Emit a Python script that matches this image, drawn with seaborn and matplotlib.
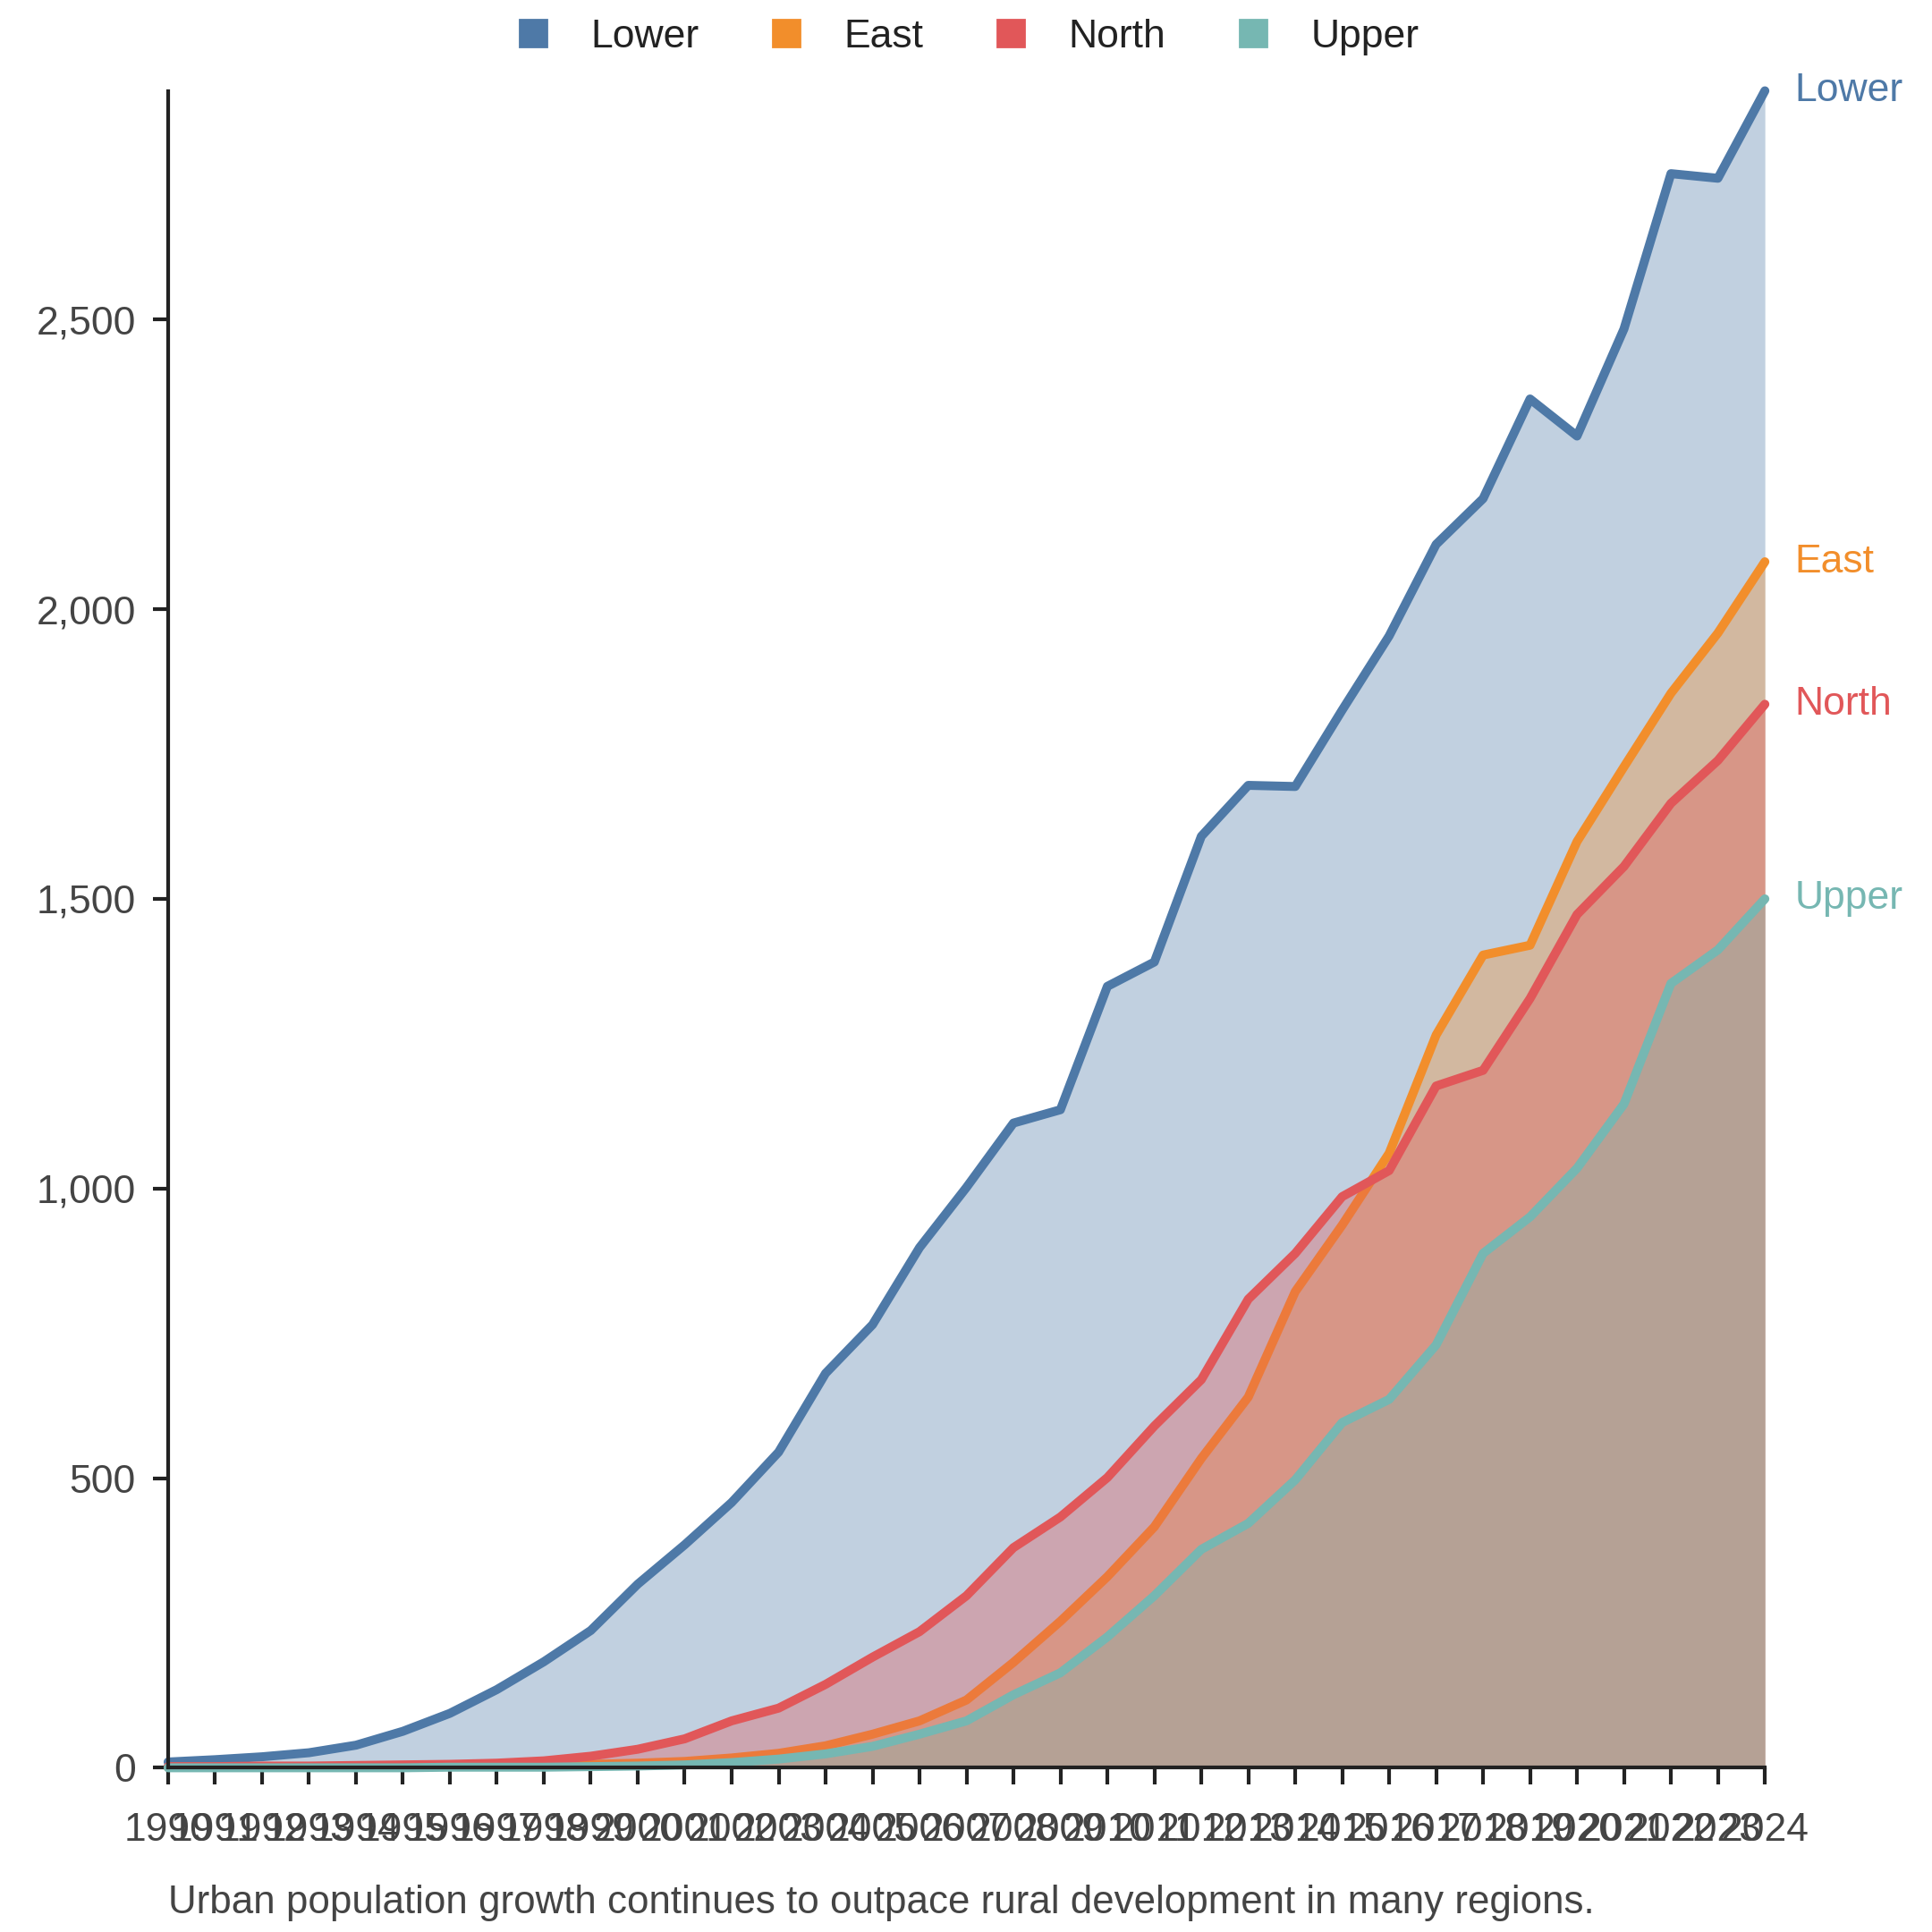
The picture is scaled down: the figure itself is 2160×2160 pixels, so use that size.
import matplotlib
matplotlib.use("Agg")
import matplotlib.pyplot as plt
from matplotlib.lines import Line2D
from matplotlib.ticker import FuncFormatter
import numpy as np
import pandas as pd
import seaborn as sns

# data
years = list(range(1990, 2025))
regions = ["Lower", "East", "North", "Upper"]
lower = [10, 14, 19, 26, 39, 63, 94, 135, 183, 237, 317, 385, 458, 545, 681, 765, 898, 1002,
         1113, 1136, 1349, 1391, 1608, 1696, 1694, 1826, 1954, 2112, 2191, 2363, 2299, 2484,
         2752, 2744, 2895]
east = [1, 1, 1, 2, 2, 3, 3, 4, 5, 6, 8, 11, 17, 25, 38, 58, 81, 117, 182, 253, 330, 416,
        534, 640, 822, 937, 1061, 1265, 1403, 1420, 1599, 1728, 1855, 1959, 2082]
north = [2, 2, 3, 3, 4, 5, 6, 8, 12, 20, 32, 50, 81, 103, 144, 191, 235, 297, 380, 433, 501,
         590, 670, 809, 888, 986, 1031, 1177, 1204, 1328, 1473, 1556, 1665, 1739, 1836]
upper = [0, 0, 0, 0, 0, 0, 1, 1, 1, 2, 3, 5, 9, 15, 24, 37, 58, 81, 126, 164, 226, 297, 377,
         422, 497, 596, 636, 730, 888, 951, 1035, 1146, 1354, 1412, 1500]
colors = ["#4e79a7", "#f28e2b", "#e15759", "#76b7b2"]
caption = "Urban population growth continues to outpace rural development in many regions."

df = pd.DataFrame({"year": years * 4,
                   "value": lower + east + north + upper,
                   "region": np.repeat(regions, len(years))})

sns.set_theme(style="ticks")
plt.rcParams["font.family"] = ["Liberation Sans", "DejaVu Sans"]

fig = plt.figure(figsize=(10.8, 10.8), dpi=200)
ax = fig.add_axes([0.087, 0.085, 0.8265, 0.868])

# each region: translucent area, then its line on top
for i, (reg, col) in enumerate(zip(regions, colors)):
    sub = df[df["region"] == reg]
    ax.fill_between(sub["year"], 0, sub["value"], color=col, alpha=0.35,
                    linewidth=0, zorder=2 * i + 1)
    sns.lineplot(data=sub, x="year", y="value", color=col, linewidth=3.6,
                 ax=ax, zorder=2 * i + 2, clip_on=False, legend=False)
    last = sub["value"].iloc[-1]
    ax.annotate(reg, xy=(years[-1], last), xytext=(12, 0), textcoords="offset points",
                ha="left", va="center", color=col, fontsize=16, annotation_clip=False)

ax.set_xlim(years[0], years[-1])
ax.set_ylim(0, max(lower))
ax.set_xticks(years)
ax.set_xticklabels([str(y) for y in years])
ax.set_yticks([0, 500, 1000, 1500, 2000, 2500])
ax.yaxis.set_major_formatter(FuncFormatter(lambda v, p: f"{int(v):,}"))
ax.set_xlabel("")
ax.set_ylabel("")
ax.tick_params(axis="x", length=7, width=1.5, pad=11, labelsize=16, colors="#222222",
               labelcolor="#444444")
ax.tick_params(axis="y", length=6, width=1.5, pad=7, labelsize=16, colors="#222222",
               labelcolor="#444444")
sns.despine(ax=ax)
for s in ["left", "bottom"]:
    ax.spines[s].set_linewidth(1.5)
    ax.spines[s].set_color("#222222")
    ax.spines[s].set_zorder(20)

handles = [Line2D([0], [0], marker="s", linestyle="", markersize=11,
                  markerfacecolor=c, markeredgecolor=c) for c in colors]
fig.legend(handles, regions, loc="center", bbox_to_anchor=(0.5, 0.981), ncol=4,
           frameon=False, fontsize=16, handlelength=1, handletextpad=0.95,
           columnspacing=1.7, labelcolor="#222222")

fig.text(0.087, 0.015, caption, ha="left", va="center", fontsize=15.8, color="#444444")

fig.savefig("out.png", dpi=200)
